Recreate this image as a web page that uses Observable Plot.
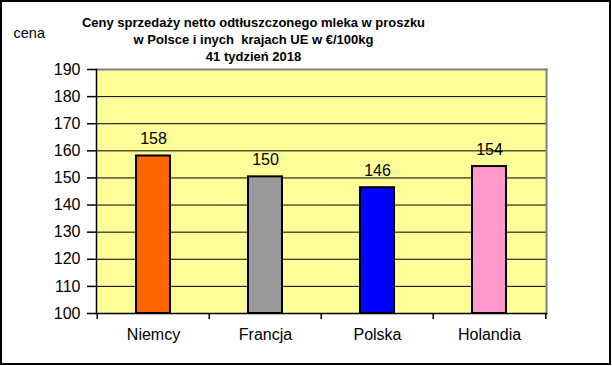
<!DOCTYPE html>
<html><head><meta charset="utf-8">
<script src="https://cdn.jsdelivr.net/npm/d3@7"></script>
<script src="https://cdn.jsdelivr.net/npm/@observablehq/plot@0.6"></script>
<style>
body{margin:0;background:#fff;}
#wrap{position:relative;width:612px;height:366px;overflow:hidden;}
#border{position:absolute;left:0;top:0;width:611px;height:365px;box-sizing:border-box;border:2px solid #000;pointer-events:none;}
</style></head>
<body><div id="wrap"><div id="border"></div></div>
<script>
const countries = ["Niemcy", "Francja", "Polska", "Holandia"];
const prices = [158.1, 150.4, 146.4, 154.2];
const barColors = ["#FF6600", "#999999", "#0000FF", "#FF99CC"];
const yTicks = [100, 110, 120, 130, 140, 150, 160, 170, 180, 190];
const titleLines = ["Ceny sprzedaży netto odtłuszczonego mleka w proszku", "w Polsce i inych  krajach UE w €/100kg", "41 tydzień 2018"];
const yLabel = "cena";

const data = countries.map((c, i) => ({country: c, price: prices[i], color: barColors[i]}));
const W = 612, H = 366, mL = 96, mR = 66, mT = 69, mB = 53;
const step = (W - mL - mR) / countries.length;

const chart = Plot.plot({
  width: W, height: H,
  marginLeft: mL, marginRight: mR, marginTop: mT, marginBottom: mB,
  style: {fontFamily: "Arial, 'Liberation Sans', sans-serif", background: "transparent", overflow: "visible", color: "#000"},
  x: {domain: countries, paddingInner: 0.7, paddingOuter: 0.35, axis: null},
  y: {domain: [100, 190], axis: null},
  marks: [
    Plot.frame({fill: "#FFFF99"}),
    Plot.ruleY(yTicks, {stroke: "#000", strokeWidth: 1}),
    Plot.frame({anchor: "top", stroke: "#808080", strokeWidth: 2}),
    Plot.frame({anchor: "right", stroke: "#808080", strokeWidth: 2}),
    Plot.barY(data, {x: "country", y1: 100, y2: "price", fill: "color", stroke: "#000", strokeWidth: 2}),
    Plot.text(data, {x: "country", y: "price", text: d => d3.format(".0f")(d.price), dy: -17, fontSize: 16, fill: "#000", textAnchor: "middle"}),
    Plot.frame({anchor: "left", stroke: "#000", strokeWidth: 1.5}),
    Plot.frame({anchor: "bottom", stroke: "#000", strokeWidth: 1.5}),
    Plot.ruleX(countries, {x: d => d, y1: 100, y2: 97.8, dx: -step / 2, stroke: "#000", strokeWidth: 1.5}),
    Plot.ruleX(countries.slice(-1), {x: d => d, y1: 100, y2: 97.8, dx: step / 2, stroke: "#000", strokeWidth: 1.5}),
    Plot.axisY({ticks: yTicks, tickSize: 9, tickPadding: 7, fontSize: 16, stroke: "#000", strokeWidth: 1.5, fill: "#000", label: null}),
    Plot.axisX({tickSize: 0, tickPadding: 15, fontSize: 16, fill: "#000", label: null}),
    Plot.text([titleLines.join("\n")], {text: d => d, frameAnchor: "top", dx: 253 - (mL + (W - mL - mR) / 2), dy: 38 - mT, lineAnchor: "middle", lineHeight: 1.31, fontWeight: "bold", fontSize: 13, fill: "#000", textAnchor: "middle"}),
    Plot.text([yLabel], {text: d => d, frameAnchor: "top-left", dx: 13 - mL, dy: 33 - mT, lineAnchor: "middle", fontSize: 14.5, fill: "#000", textAnchor: "start"})
  ]
});

document.getElementById("wrap").prepend(chart);
</script></body></html>
